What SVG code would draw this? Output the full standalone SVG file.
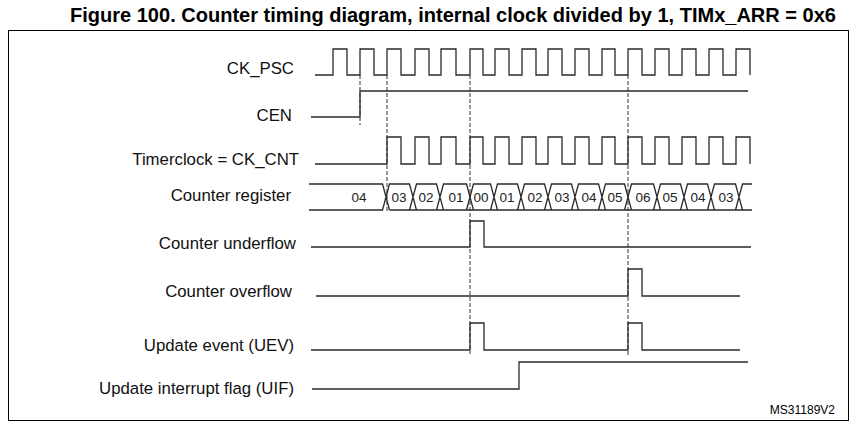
<svg xmlns="http://www.w3.org/2000/svg" width="857" height="427" viewBox="0 0 857 427">
<style>
.lbl{font-family:"Liberation Sans",Arial,sans-serif;font-size:16.8px;fill:#111;text-anchor:end}
.val{font-family:"Liberation Sans",Arial,sans-serif;font-size:13.5px;fill:#222;text-anchor:middle}
.wave{fill:none;stroke:#2a2a2a;stroke-width:1.3}
.dash{fill:none;stroke:#333;stroke-width:1;stroke-dasharray:4 2}
</style>
<rect x="0" y="0" width="857" height="427" fill="#fff"/>
<text x="70" y="22" font-family="'Liberation Sans',Arial,sans-serif" font-weight="bold" font-size="20" textLength="766" lengthAdjust="spacingAndGlyphs" fill="#000">Figure 100. Counter timing diagram, internal clock divided by 1, TIMx_ARR = 0x6</text>
<rect x="8.5" y="30.5" width="840" height="390" fill="none" stroke="#000" stroke-width="1"/>
<g id="labels">
<text class="lbl" x="294" y="74">CK_PSC</text>
<text class="lbl" x="292" y="121">CEN</text>
<text class="lbl" x="299" y="165">Timerclock = CK_CNT</text>
<text class="lbl" x="291" y="201">Counter register</text>
<text class="lbl" x="296" y="249">Counter underflow</text>
<text class="lbl" x="292" y="297">Counter overflow</text>
<text class="lbl" x="294" y="351">Update event (UEV)</text>
<text class="lbl" x="294" y="394">Update interrupt flag (UIF)</text>
</g>
<g id="connectors">
<path class="dash" d="M360,75 V125"/>
<path class="dash" d="M387,75 V212"/>
<path class="dash" d="M470,75 V354"/>
<path class="dash" d="M628,75 V356"/>
</g>
<g id="ck_psc">
<path class="wave" d="M315,75 H333 V49 H347 V75 H360 V49 H374 V75 H387 V49 H401 V75 H415 V49 H429 V75 H441 V49 H456 V75 H470 V49 H483 V75 H495 V49 H509 V75 H522 V49 H536 V75 H548 V49 H562 V75 H575 V49 H589 V75 H602 V49 H615 V75 H628 V49 H642 V75 H655 V49 H669 V75 H682 V49 H696 V75 H709 V49 H723 V75 H736 V49 H750 V75"/>
</g>
<g id="cen">
<path class="wave" d="M311,117 H360 V91 H748"/>
</g>
<g id="timerclock">
<path class="wave" d="M315,164 H387 V137 H401 V164 H415 V137 H429 V164 H441 V137 H456 V164 H470 V137 H483 V164 H495 V137 H509 V164 H522 V137 H536 V164 H548 V137 H562 V164 H575 V137 H589 V164 H602 V137 H615 V164 H628 V137 H642 V164 H655 V137 H669 V164 H682 V137 H696 V164 H709 V137 H723 V164 H736 V137 H750 V164"/>
</g>
<g id="counter_register">
<path class="wave" d="M309,184 H382.5 L389.5,210 M309,210 H382.5 L389.5,184 H409.5 L416.5,210 H389.5 M409.5,210 L416.5,184 H436.5 L443.5,210 H416.5 M436.5,210 L443.5,184 H466.5 L473.5,210 H443.5 M466.5,210 L473.5,184 H490.5 L497.5,210 H473.5 M490.5,210 L497.5,184 H517.5 L524.5,210 H497.5 M517.5,210 L524.5,184 H544.5 L551.5,210 H524.5 M544.5,210 L551.5,184 H571.5 L578.5,210 H551.5 M571.5,210 L578.5,184 H598.5 L605.5,210 H578.5 M598.5,210 L605.5,184 H624.5 L631.5,210 H605.5 M624.5,210 L631.5,184 H653.5 L660.5,210 H631.5 M653.5,210 L660.5,184 H680.5 L687.5,210 H660.5 M680.5,210 L687.5,184 H707.5 L714.5,210 H687.5 M707.5,210 L714.5,184 H735.5 L742.5,210 H714.5 M735.5,210 L742.5,184 H752 M742.5,210 H752"/>
<text class="val" x="359" y="202">04</text>
<text class="val" x="399" y="202">03</text>
<text class="val" x="426" y="202">02</text>
<text class="val" x="456" y="202">01</text>
<text class="val" x="481" y="202">00</text>
<text class="val" x="507" y="202">01</text>
<text class="val" x="535" y="202">02</text>
<text class="val" x="562" y="202">03</text>
<text class="val" x="589" y="202">04</text>
<text class="val" x="615" y="202">05</text>
<text class="val" x="643" y="202">06</text>
<text class="val" x="670" y="202">05</text>
<text class="val" x="698" y="202">04</text>
<text class="val" x="726" y="202">03</text>
</g>
<g id="underflow">
<path class="wave" d="M311,247 H470 V221 H484 V247 H751"/>
</g>
<g id="overflow">
<path class="wave" d="M316,296 H628 V269 H642 V296 H740"/>
</g>
<g id="uev">
<path class="wave" d="M311,350 H470 V323 H484 V350 H628 V323 H642 V350 H740"/>
</g>
<g id="uif">
<path class="wave" d="M312,389 H519 V362 H748" />
</g>
<text x="835" y="414" font-family="'Liberation Sans',Arial,sans-serif" font-size="12" text-anchor="end" fill="#000">MS31189V2</text>
</svg>
